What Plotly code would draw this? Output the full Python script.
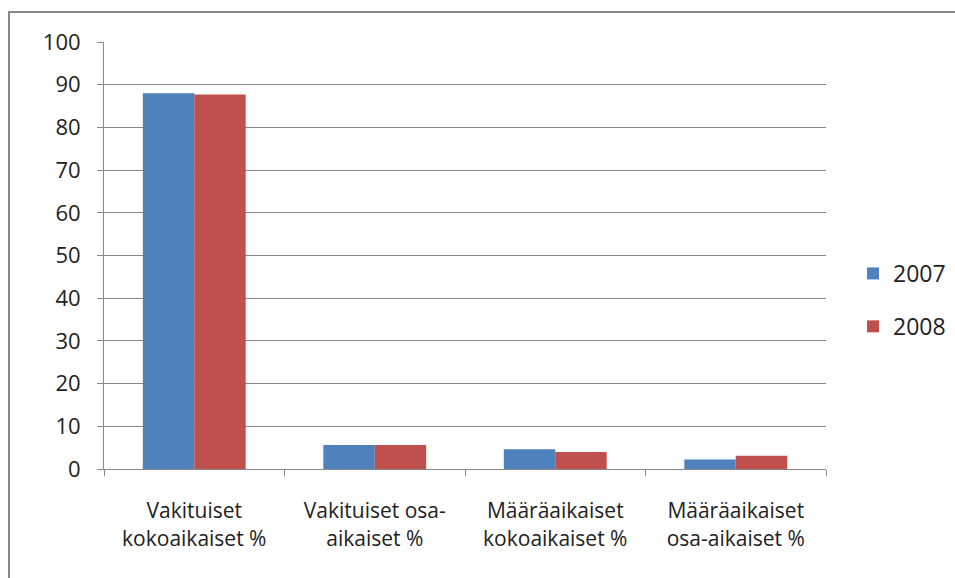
import plotly.graph_objects as go

categories = ["Vakituiset<br>kokoaikaiset %", "Vakituiset osa-<br>aikaiset %",
              "Määräaikaiset<br>kokoaikaiset %", "Määräaikaiset<br>osa-aikaiset %"]
series_2007 = [88.0, 5.6, 4.6, 2.2]
series_2008 = [87.7, 5.6, 4.0, 3.1]
y_ticks = [0, 10, 20, 30, 40, 50, 60, 70, 80, 90, 100]

W, H = 955, 578
L, R, T, B = 104, 826, 42, 469

fig = go.Figure()
fig.add_bar(name="2007", x=categories, y=series_2007, legendgroup="a",
            marker=dict(color="#4F81BD", line=dict(width=0)))
fig.add_bar(name="2008", x=categories, y=series_2008, legendgroup="b",
            marker=dict(color="#C0504D", line=dict(width=0)))

font = "Open Sans, Liberation Sans, sans-serif"
fig.update_layout(
    width=W, height=H, autosize=False,
    margin=dict(l=L, r=W - R, t=T, b=H - B, pad=0, autoexpand=False),
    paper_bgcolor="white", plot_bgcolor="white",
    barmode="group", bargap=0.43, bargroupgap=0,
    font=dict(family=font, size=21, color="#222222"),
    showlegend=True,
    legend=dict(x=(853 - L) / (R - L), y=(B - 300) / (B - T),
                xanchor="left", yanchor="middle",
                font=dict(size=23), traceorder="grouped", tracegroupgap=20,
                itemsizing="constant", bgcolor="rgba(0,0,0,0)"),
    xaxis=dict(showgrid=False, showline=True, linecolor="#888888", linewidth=1,
               ticks="outside", tickson="boundaries", ticklen=6, tickcolor="#888888",
               tickfont=dict(size=21), ticklabelstandoff=23, fixedrange=True),
    yaxis=dict(range=[0, 100], tickvals=y_ticks, showgrid=True, gridcolor="#888888",
               gridwidth=1, showline=True, linecolor="#888888", linewidth=1,
               ticks="outside", ticklen=6, tickcolor="#888888", zeroline=False,
               tickfont=dict(size=22), ticklabelstandoff=12, fixedrange=True),
    shapes=[dict(type="rect", xref="paper", yref="paper",
                 x0=(9 - L) / (R - L), x1=(W + 20 - L) / (R - L),
                 y0=(B - (H + 20)) / (B - T), y1=(B - 12) / (B - T),
                 line=dict(color="#888888", width=2), fillcolor="rgba(0,0,0,0)", layer="below")],
)

fig.write_html("out.html", config={"responsive": False, "displayModeBar": False},
               post_script="document.body.style.margin='0';document.body.style.overflow='hidden';")
